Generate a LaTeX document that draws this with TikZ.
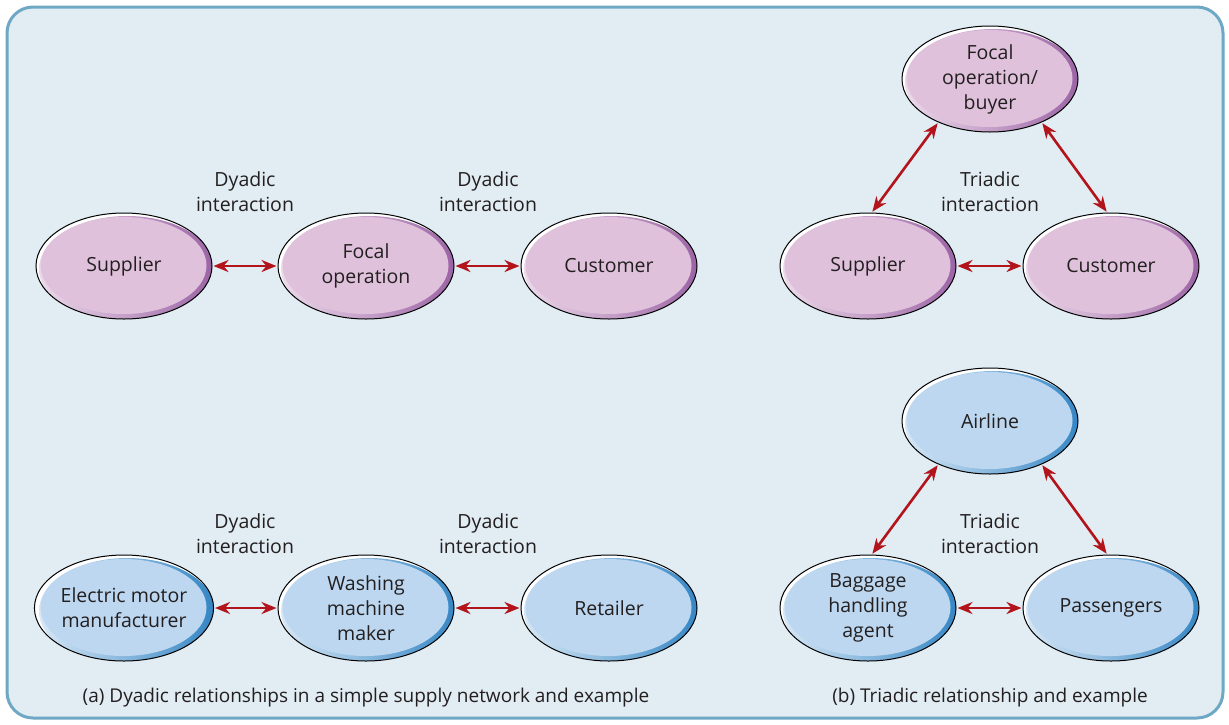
\documentclass[tikz,border=0pt]{standalone}
\usepackage{fontspec}
\setmainfont{Open Sans}
\usetikzlibrary{shapes.geometric,arrows.meta}
\definecolor{bgfill}{HTML}{E1ECF3}
\definecolor{bgline}{HTML}{6FA8C4}
\definecolor{pinkmain}{HTML}{DFC1DC}
\definecolor{pinkdark}{HTML}{9A62A4}
\definecolor{bluemain}{HTML}{BCD7EF}
\definecolor{bluedark}{HTML}{3385C4}
\definecolor{arrred}{HTML}{B3141C}
\definecolor{txt}{HTML}{231F20}
\tikzset{
  ell/.style 2 args={ellipse, minimum width=176pt, minimum height=106pt, inner sep=0pt,
    draw=black, line width=1pt, align=center, text=txt, font=\fontsize{19.5}{25}\selectfont,
    path picture={
      \fill[white] (path picture bounding box.south west) rectangle (path picture bounding box.north east);
      \shade[left color=#1!60!white, right color=#2] ([shift={(3pt,-3pt)}]path picture bounding box.center) ellipse [x radius=88pt, y radius=53pt];
      \fill[#1] ([shift={(-0.5pt,0.5pt)}]path picture bounding box.center) ellipse [x radius=83pt, y radius=48.5pt];
    }},
  pinkell/.style={ell={pinkmain}{pinkdark}},
  blueell/.style={ell={bluemain}{bluedark}},
  lbl/.style={align=center, text=txt, font=\fontsize{19.5}{25}\selectfont},
  captext/.style={text=txt, font=\fontsize{19}{20}\selectfont},
  link/.style={draw=arrred, line width=2.6pt, {Stealth[length=15pt,width=12pt]}-{Stealth[length=15pt,width=12pt]}, shorten <=1pt, shorten >=1pt},
}
\begin{document}
\begin{tikzpicture}[x=1pt,y=-1pt]
\useasboundingbox (0,0) rectangle (1229,724);
\draw[bgline, fill=bgfill, line width=3pt, rounded corners=26pt] (7,7) rectangle (1223,718);
% row 1 dyadic
\node[pinkell] (sup) at (124,266) {Supplier};
\node[pinkell] (foc) at (366,266) {Focal\\operation};
\node[pinkell] (cus) at (609,266) {Customer};
\draw[link] (sup.east) -- (foc.west);
\draw[link] (foc.east) -- (cus.west);
\node[lbl] (d1) at (245,192) {Dyadic\\interaction};
\node[lbl] (d2) at (488,192) {Dyadic\\interaction};
% row 2 dyadic example
\node[blueell] (emm) at (124,608) {Electric motor\\manufacturer};
\node[blueell] (wmm) at (366,608) {Washing\\machine\\maker};
\node[blueell] (ret) at (609,608) {Retailer};
\draw[link] (emm.east) -- (wmm.west);
\draw[link] (wmm.east) -- (ret.west);
\node[lbl] (d3) at (245,534) {Dyadic\\interaction};
\node[lbl] (d4) at (488,534) {Dyadic\\interaction};
% triadic
\node[pinkell] (fb) at (990,79) {Focal\\operation/\\buyer};
\node[pinkell] (ts) at (868,266) {Supplier};
\node[pinkell] (tc) at (1111,266) {Customer};
\draw[link] (fb.220) -- (ts.86);
\draw[link] (fb.320) -- (tc.94);
\draw[link] (ts.east) -- (tc.west);
\node[lbl] (t1) at (990,192) {Triadic\\interaction};
% triadic example
\node[blueell] (air) at (990,421) {Airline};
\node[blueell] (bag) at (868,608) {Baggage\\handling\\agent};
\node[blueell] (pas) at (1111,608) {Passengers};
\draw[link] (air.220) -- (bag.86);
\draw[link] (air.320) -- (pas.94);
\draw[link] (bag.east) -- (pas.west);
\node[lbl] (t2) at (990,534) {Triadic\\interaction};
% captions
\node[captext] (ca) at (366,698) {(a) Dyadic relationships in a simple supply network and example};
\node[captext] (cb) at (990,698) {(b) Triadic relationship and example};
\end{tikzpicture}
\end{document}
